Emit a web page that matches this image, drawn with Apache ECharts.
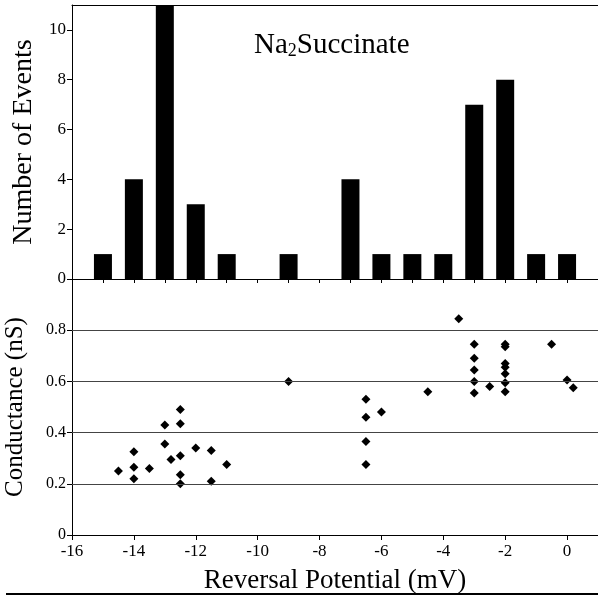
<!DOCTYPE html>
<html>
<head>
<meta charset="utf-8">
<script src="https://cdn.jsdelivr.net/npm/echarts@6/dist/echarts.min.js"></script>
<style>
  html, body { margin: 0; padding: 0; background: #fff; }
  #chart { width: 598px; height: 598px; }
</style>
</head>
<body>
<div id="chart"></div>
<script>
// histogram: reversal potential bins (mV) and counts
const binCenters = [-15, -14, -13, -12, -11, -9, -7, -6, -5, -4, -3, -2, -1, 0];
const binCounts  = [1, 4, 11, 3, 1, 1, 4, 1, 1, 1, 7, 8, 1, 1];

// scatter: reversal potential (mV) vs conductance (nS)
const potential = [
  -14.5, -14, -14, -14, -13.5, -13, -13, -12.8, -12.5, -12.5, -12.5, -12.5, -12.5,
  -12, -11.5, -11.5, -11, -9,
  -6.5, -6.5, -6.5, -6.5, -6, -4.5, -3.5,
  -3, -3, -3, -3, -3, -2.5,
  -2, -2, -2, -2, -2, -2, -2,
  -0.5, 0, 0.2
];
const conductance = [
  0.25, 0.325, 0.265, 0.22, 0.26, 0.43, 0.355, 0.295, 0.49, 0.435, 0.31, 0.235, 0.2,
  0.34, 0.33, 0.21, 0.275, 0.6,
  0.53, 0.46, 0.365, 0.275, 0.48, 0.56, 0.845,
  0.745, 0.69, 0.645, 0.6, 0.555, 0.58,
  0.745, 0.735, 0.67, 0.655, 0.63, 0.595, 0.56,
  0.745, 0.605, 0.575
];

const countTicks = [0, 2, 4, 6, 8, 10];
const condTicks = [0, 0.2, 0.4, 0.6, 0.8];
const potTicks = [-16, -14, -12, -10, -8, -6, -4, -2, 0];

const serif = 'Liberation Serif';

const chart = echarts.init(document.getElementById('chart'));
chart.setOption({
  animation: false,
  title: {
    text: '{a|Na}{s|2}{a|Succinate}',
    left: 249,
    top: 25,
    textStyle: {
      rich: {
        a: { fontFamily: serif, fontSize: 29, fontWeight: 'normal', color: '#000' },
        s: { fontFamily: serif, fontSize: 18, fontWeight: 'normal', color: '#000', padding: [12, 0, 0, 0] }
      }
    }
  },
  grid: [
    { left: 72, right: 0, top: 5, height: 274, outerBoundsMode: 'none' },
    { left: 72, right: 0, top: 279, height: 256, outerBoundsMode: 'none' }
  ],
  xAxis: [
    {
      gridIndex: 0, type: 'value', min: -16, max: 1, interval: 1,
      axisLine: { onZero: false, lineStyle: { color: '#000', width: 1 } },
      axisTick: { length: 4, lineStyle: { color: '#000' } },
      axisLabel: { show: false },
      splitLine: { show: false }
    },
    {
      gridIndex: 0, type: 'value', position: 'top', min: -16, max: 1,
      axisLine: { onZero: false, lineStyle: { color: '#000', width: 1 } },
      axisTick: { show: false },
      axisLabel: { show: false },
      splitLine: { show: false }
    },
    {
      gridIndex: 1, type: 'value', min: -16, max: 1, interval: 2,
      name: 'Reversal Potential (mV)',
      nameLocation: 'middle',
      nameGap: 32,
      nameTextStyle: { fontFamily: serif, fontSize: 27, color: '#000' },
      axisLine: { onZero: false, lineStyle: { color: '#000', width: 1 } },
      axisTick: { length: 5, lineStyle: { color: '#000' }, customValues: potTicks },
      axisLabel: {
        fontFamily: serif, fontSize: 17, color: '#000', margin: 8,
        customValues: potTicks
      },
      splitLine: { show: false }
    }
  ],
  yAxis: [
    {
      gridIndex: 0, type: 'value', min: 0, max: 11,
      name: 'Number of Events',
      nameLocation: 'middle',
      nameGap: 32,
      nameTextStyle: { fontFamily: serif, fontSize: 28, color: '#000' },
      axisLine: { show: true, onZero: false, lineStyle: { color: '#000', width: 1 } },
      axisTick: { show: true, length: 5, lineStyle: { color: '#000' }, customValues: countTicks },
      axisLabel: {
        fontFamily: serif, fontSize: 17, color: '#000', margin: 6,
        customValues: countTicks
      },
      splitLine: { show: false }
    },
    {
      gridIndex: 1, type: 'value', min: 0, max: 1,
      name: 'Conductance (nS)',
      nameLocation: 'middle',
      nameGap: 44,
      nameTextStyle: { fontFamily: serif, fontSize: 25, color: '#000' },
      axisLine: { show: true, onZero: false, lineStyle: { color: '#000', width: 1 } },
      axisTick: { show: true, length: 5, lineStyle: { color: '#000' }, customValues: condTicks },
      axisLabel: {
        fontFamily: serif, fontSize: 16, color: '#000', margin: 6,
        customValues: condTicks
      },
      splitLine: { show: false }
    }
  ],
  series: [
    {
      type: 'bar',
      xAxisIndex: 0,
      yAxisIndex: 0,
      barWidth: 18,
      itemStyle: { color: '#000' },
      data: binCenters.map((x, i) => [x, binCounts[i]])
    },
    {
      // horizontal reference lines in the lower panel
      type: 'line',
      xAxisIndex: 2,
      yAxisIndex: 1,
      data: [],
      markLine: {
        silent: true,
        symbol: 'none',
        label: { show: false },
        lineStyle: { color: '#444', width: 1, type: 'solid' },
        data: condTicks.slice(1).map(v => ({ yAxis: v }))
      }
    },
    {
      type: 'scatter',
      xAxisIndex: 2,
      yAxisIndex: 1,
      symbol: 'diamond',
      symbolSize: 9,
      itemStyle: { color: '#000', opacity: 1 },
      data: potential.map((x, i) => [x, conductance[i]])
    }
  ],
  graphic: [
    {
      type: 'line',
      shape: { x1: 6, y1: 594, x2: 598, y2: 594 },
      style: { stroke: '#000', lineWidth: 2 }
    }
  ]
});
</script>
</body>
</html>
